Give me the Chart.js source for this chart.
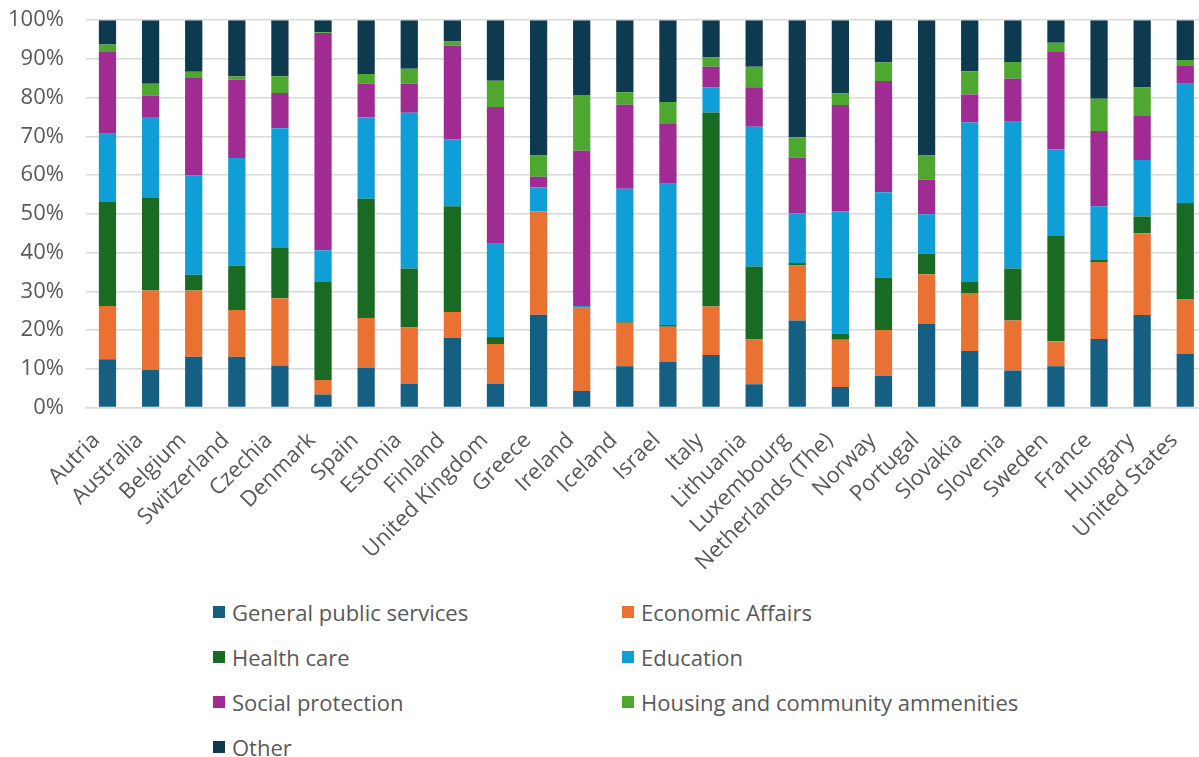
<!DOCTYPE html>
<html>
<head>
<meta charset="utf-8">
<script src="https://cdn.jsdelivr.net/npm/chart.js@4.4.1/dist/chart.umd.min.js"></script>
<style>
  body { margin: 0; background: #fff; font-family: "Open Sans", sans-serif; overflow: hidden; }
  #wrap { position: relative; width: 1230px; height: 603px; margin-left: -14px; margin-top: -15px; }
  #leyenda {
    display: grid;
    grid-template-columns: 409px 500px;
    row-gap: 19px;
    margin-left: 213px;
    margin-top: 11px;
    color: #595959;
    font-size: 22px;
  }
  #leyenda div { display: flex; align-items: center; height: 26px; white-space: nowrap; }
  #leyenda span.caja { flex: 0 0 12px; width: 12px; height: 12px; margin-right: 7px; display: inline-block; }
</style>
</head>
<body>
<div id="wrap"><canvas id="grafico"></canvas></div>
<div id="leyenda"></div>
<script>
// ==============================
// DATOS (% del gasto público)
// ==============================
const paises = ["Autria", "Australia", "Belgium", "Switzerland", "Czechia", "Denmark", "Spain", "Estonia", "Finland",
    "United Kingdom", "Greece", "Ireland", "Iceland", "Israel", "Italy", "Lithuania", "Luxembourg",
    "Netherlands (The)", "Norway", "Portugal", "Slovakia", "Slovenia", "Sweden", "France", "Hungary", "United States"];

const serviciosGenerales = [12.5, 9.7, 13.1, 13.1, 10.9, 3.4, 10.2, 6.1, 18.0, 6.1, 24.0, 4.3, 10.7, 11.8, 13.6, 6.0, 22.5, 5.3, 8.2, 21.6, 14.6, 9.6, 10.7, 17.7, 23.9, 13.9];
const asuntosEconomicos = [13.7, 20.5, 17.1, 12.1, 17.3, 3.7, 12.9, 14.6, 6.7, 10.3, 26.6, 21.5, 11.2, 9.1, 12.5, 11.6, 14.2, 12.2, 11.8, 12.8, 15.0, 12.9, 6.4, 19.9, 21.1, 14.0];
const salud = [26.9, 23.9, 4.1, 11.4, 13.0, 25.3, 30.8, 15.2, 27.3, 1.8, 0, 0, 0.2, 0.4, 50.1, 18.8, 0.6, 1.6, 13.6, 5.3, 2.8, 13.4, 27.2, 0.5, 4.3, 24.9];
const educacion = [17.6, 20.9, 25.6, 27.8, 30.9, 8.2, 21.0, 40.2, 17.2, 24.1, 6.2, 0.4, 34.4, 36.5, 6.5, 36.1, 12.9, 31.5, 22.0, 10.2, 41.2, 37.9, 22.4, 13.9, 14.6, 30.8];
const proteccionSocial = [21.1, 5.5, 25.2, 20.2, 9.1, 56.1, 8.7, 7.5, 24.2, 35.3, 2.8, 40.1, 21.7, 15.6, 5.3, 10.2, 14.3, 27.5, 28.7, 9.0, 7.2, 11.1, 25.1, 19.4, 11.4, 4.6];
const vivienda = [1.9, 3.1, 1.6, 0.9, 4.3, 0.2, 2.5, 3.9, 1.1, 6.8, 5.5, 14.4, 3.2, 5.5, 2.4, 5.3, 5.3, 3.0, 4.8, 6.2, 6.0, 4.3, 2.4, 8.3, 7.3, 1.5];
const otros = [6.3, 16.4, 13.3, 14.5, 14.5, 3.1, 13.9, 12.5, 5.5, 15.6, 34.9, 19.3, 18.6, 21.1, 9.6, 12.0, 30.2, 18.9, 10.9, 34.9, 13.2, 10.8, 5.8, 20.3, 17.4, 10.3];

const etiquetasY = ["0%", "10%", "20%", "30%", "40%", "50%", "60%", "70%", "80%", "90%", "100%"];

const series = [
    { label: "General public services", data: serviciosGenerales, color: "#156082" },
    { label: "Economic Affairs", data: asuntosEconomicos, color: "#e97132" },
    { label: "Health care", data: salud, color: "#196b24" },
    { label: "Education", data: educacion, color: "#0f9ed5" },
    { label: "Social protection", data: proteccionSocial, color: "#a02b93" },
    { label: "Housing and community ammenities", data: vivienda, color: "#4ea72e" },
    { label: "Other", data: otros, color: "#0e3a50" }
];

// ==============================
// GRÁFICA APILADA
// ==============================
const gris = "#595959";
const fuente = { family: "'Open Sans', sans-serif", size: 22 };

new Chart(document.getElementById("grafico"), {
    type: "bar",
    data: {
        labels: paises,
        datasets: series.map(s => ({
            label: s.label,
            data: s.data,
            backgroundColor: s.color,
            borderWidth: 0,
            barPercentage: 0.4,
            categoryPercentage: 1
        }))
    },
    options: {
        responsive: true,
        maintainAspectRatio: false,
        animation: false,
        layout: { padding: { top: 2, right: 3, left: 0, bottom: 0 } },
        plugins: { legend: { display: false }, tooltip: { enabled: false } },
        scales: {
            x: {
                stacked: true,
                grid: { display: false },
                border: { color: "#d9d9d9", width: 1.5 },
                ticks: { color: gris, font: fuente, minRotation: 45, maxRotation: 45, padding: 12, labelOffset: -11 }
            },
            y: {
                stacked: true,
                min: 0,
                max: 100,
                afterBuildTicks: ax => { ax.ticks = etiquetasY.map((t, i) => ({ value: i * 10 })); },
                grid: { color: "#d9d9d9", lineWidth: 1.5, drawTicks: false },
                border: { display: false },
                ticks: {
                    color: gris, font: fuente, padding: 22,
                    callback: (v, i) => etiquetasY[i]
                }
            }
        }
    }
});

// leyenda en dos columnas
const leyenda = document.getElementById("leyenda");
series.forEach(s => {
    const item = document.createElement("div");
    item.innerHTML = `<span class="caja" style="background:${s.color}"></span>${s.label}`;
    leyenda.appendChild(item);
});
</script>
</body>
</html>
